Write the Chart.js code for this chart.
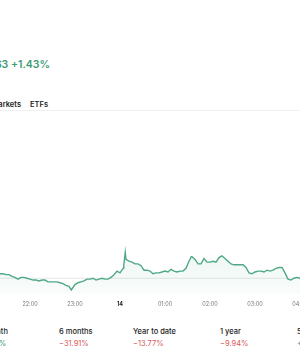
<!DOCTYPE html>
<html>
<head>
<meta charset="utf-8">
<script src="https://cdn.jsdelivr.net/npm/chart.js@4.4.1/dist/chart.umd.min.js"></script>
<style>
  html, body { margin: 0; padding: 0; background: #fff; }
  body { width: 300px; height: 350px; overflow: hidden; position: relative; font-family: "Inter", "Roboto", sans-serif; }
  .abs { position: absolute; white-space: nowrap; }
  .change { right: 250px; top: 58px; font-size: 10.5px; font-weight: 600; color: #3d9b72; }
  .tab { top: 100px; font-size: 7.5px; font-weight: 600; color: #222; }
  .sep { left: 0; top: 110px; width: 300px; height: 1px; background: #eef0f1; }
  .stat { font-size: 7.5px; }
  .stat .lbl { color: #222; font-weight: 500; }
  .stat .val { margin-top: 3px; }
  .up { color: #3d9b72; }
  .down { color: #d65a5a; }
  #wrap { position: absolute; left: -60px; top: 237px; width: 420px; height: 78px; }
</style>
</head>
<body>
<div class="abs change">+185.63 +1.43%</div>
<div class="abs tab" style="right:279px">Markets</div>
<div class="abs tab" style="left:30px">ETFs</div>
<div class="abs sep"></div>

<div id="wrap"><canvas id="myChart" width="420" height="78"></canvas></div>

<div id="stats"></div>

<script>
// price readings (time of day, price); previous close drawn as a flat line
const times = [
  "20:00","20:40","21:20","21:24","21:28","21:32","21:36","21:40","21:44","21:48","21:52","21:56",
  "22:00","22:04","22:08","22:12","22:16","22:20","22:24","22:28","22:32","22:36","22:40","22:44",
  "22:48","22:52","22:55","23:00","23:04","23:08","23:12","23:16","23:20","23:24","23:28","23:32",
  "23:36","23:40","23:44","23:48","23:52","23:56","00:00","00:04","00:05","00:07","00:08","00:12",
  "00:16","00:20","00:24","00:28","00:32","00:36","00:40","00:44","00:48","00:52","00:56","01:00",
  "01:04","01:08","01:12","01:16","01:20","01:24","01:28","01:32","01:35","01:36","01:40","01:44",
  "01:48","01:52","01:56","02:00","02:04","02:08","02:12","02:16","02:20","02:24","02:28","02:32",
  "02:36","02:40","02:44","02:48","02:52","02:56","03:00","03:04","03:08","03:12","03:16","03:20",
  "03:24","03:28","03:32","03:36","03:40","03:44","03:48","03:52","03:56","04:00","04:40","05:20"
]
const prices = [
  100.8,100.6,100.5,100.5,100.4,100.4,100.2,100.1,99.9,100.1,100.1,100.0,
  99.9,99.8,99.8,99.7,99.8,99.8,99.6,99.6,99.6,99.6,99.5,99.4,
  99.2,99.1,98.7,99.3,99.5,99.6,99.7,99.9,99.9,100.0,99.8,99.9,
  100.0,99.9,99.9,100.1,100.4,100.8,100.6,101.1,101.4,102.9,102.1,101.9,
  101.8,101.6,101.6,101.4,100.9,100.9,100.8,100.5,100.6,100.6,100.7,100.8,
  100.7,101.0,100.8,100.7,100.8,100.8,101.1,101.9,102.4,102.4,102.1,101.6,
  101.6,102.2,101.8,101.8,101.9,101.8,102.3,102.5,102.2,101.9,101.6,101.5,
  101.5,101.5,101.5,101.2,100.6,100.5,100.7,100.8,100.8,100.7,100.9,100.8,
  100.9,101.1,101.2,101.2,100.6,99.9,99.8,100.0,100.1,100.0,100.0,100.1
]
const prevClose = 100.0
const tickTimes = ["22:00","23:00","00:00","01:00","02:00","03:00","04:00","05:00"]
const dayLabel = "14"

const statLabels = ["1 month","6 months","Year to date","1 year","5 years"]
const statValues = ["+4.12%","\u221231.91%","\u221213.77%","\u22129.94%","+18.52%"]
const statLeft = [-20, 59, 133, 220, 297]

function toMin(t){
    let [h, m] = t.split(":").map(Number)
    let v = h * 60 + m
    if (h < 12) v += 1440
    return v
}

let stats = document.getElementById("stats")
statLabels.forEach((lbl, i) => {
    let d = document.createElement("div")
    d.className = "abs stat"
    d.style.left = statLeft[i] + "px"
    d.style.top = "327px"
    let up = statValues[i][0] == "+"
    d.innerHTML = '<div class="lbl">' + lbl + '</div><div class="val ' + (up ? "up" : "down") + '">' + statValues[i] + '</div>'
    stats.appendChild(d)
})

const lineColor = "#4fa985"
const xMin = toMin("20:00")
const xMax = toMin("05:20")

let htmlChart = document.getElementById("myChart")
new Chart(htmlChart, {
    type: "line",
    data: {
        datasets: [
            {
                label: "Price",
                data: times.map((t, i) => ({x: toMin(t), y: prices[i]})),
                borderColor: lineColor,
                borderWidth: 1.4,
                pointRadius: 0,
                tension: 0,
                fill: "start",
                order: 1,
                backgroundColor: (ctx) => {
                    let area = ctx.chart.chartArea
                    if (!area) return "rgba(79,169,133,0.06)"
                    let g = ctx.chart.ctx.createLinearGradient(0, area.top, 0, area.bottom)
                    g.addColorStop(0, "rgba(79,169,133,0.12)")
                    g.addColorStop(1, "rgba(79,169,133,0.03)")
                    return g
                }
            },
            {
                label: "Previous close",
                data: [{x: xMin, y: prevClose}, {x: xMax, y: prevClose}],
                borderColor: "#e4e7e9",
                borderWidth: 1,
                pointRadius: 0,
                fill: false,
                order: 2
            }
        ]
    },
    options: {
        responsive: false,
        animation: false,
        layout: { padding: 0 },
        plugins: {
            legend: { display: false },
            tooltip: { enabled: false }
        },
        scales: {
            x: {
                type: "linear",
                min: xMin,
                max: xMax,
                grid: { display: false, drawTicks: false },
                border: { display: false },
                afterBuildTicks: (scale) => {
                    scale.ticks = tickTimes.map(t => ({value: toMin(t)}))
                },
                ticks: {
                    autoSkip: false,
                    maxRotation: 0,
                    padding: 7,
                    callback: (v) => {
                        if (v == 1440) return dayLabel
                        let h = Math.floor(v / 60) % 24
                        return String(h).padStart(2, "0") + ":00"
                    },
                    color: (ctx) => ctx.tick && ctx.tick.value == 1440 ? "#222" : "#777",
                    font: (ctx) => ({
                        family: "Inter",
                        size: 5.5,
                        weight: ctx.tick && ctx.tick.value == 1440 ? "bold" : "normal"
                    })
                }
            },
            y: {
                display: false,
                min: 98.2,
                max: 104.6
            }
        }
    }
})
</script>
</body>
</html>
